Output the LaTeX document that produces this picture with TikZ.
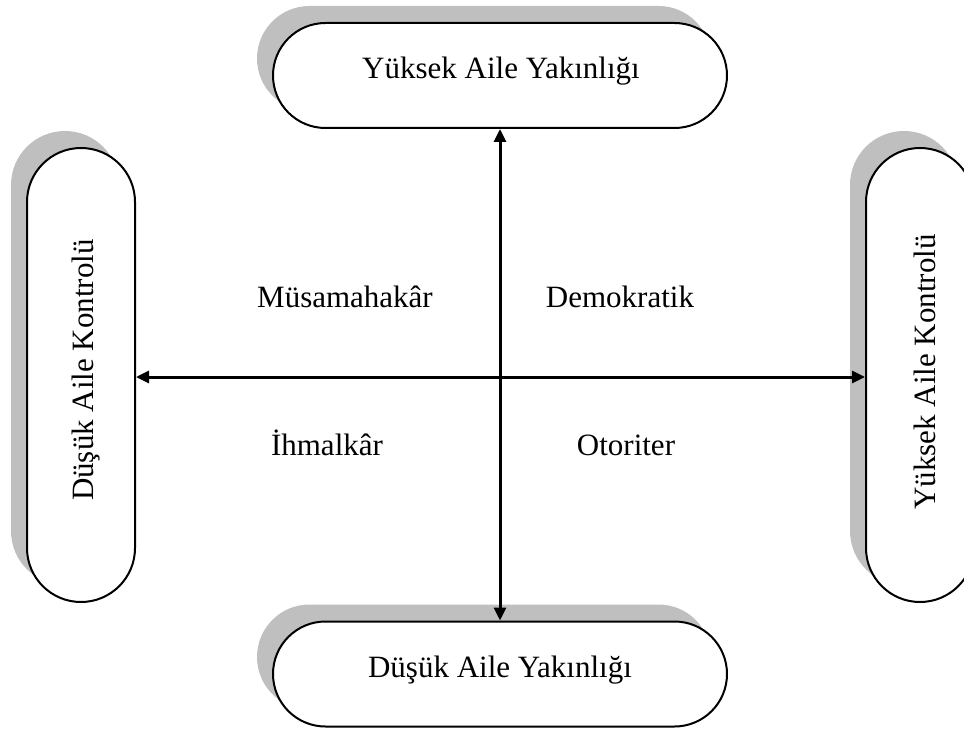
\documentclass[tikz,border=0pt]{standalone}
\usepackage{fontspec}
\setmainfont{Liberation Serif}
\usetikzlibrary{arrows.meta,shadows}
\definecolor{shadowgray}{RGB}{191,191,191}
\tikzset{
  stadium/.style={draw=black, line width=1pt, fill=white, inner sep=0pt,
    general shadow={fill=shadowgray, shadow xshift=-8pt, shadow yshift=8.5pt}},
  hbox/.style={stadium, rounded corners=26.25pt, minimum width=227pt, minimum height=52.5pt},
  vbox/.style={stadium, rounded corners=27pt, minimum width=54pt, minimum height=227pt},
  lbl/.style={font=\fontsize{15.5}{18}\selectfont, inner sep=0pt, anchor=base},
  axis/.style={line width=1.5pt, {Triangle[length=6.5pt,width=6pt]}-{Triangle[length=6.5pt,width=6pt]}}
}
\begin{document}
\begin{tikzpicture}[x=0.5pt,y=-0.5pt]
\useasboundingbox (0,0) rectangle (964,733);
\node[hbox] (top) at (500,75.5) {};
\node[hbox] (bot) at (500,674) {};
\node[vbox] (lft) at (81,375) {};
\node[vbox] (rgt) at (920,375) {};
\node[lbl] (ttop) at (501,79) {Yüksek Aile Yakınlığı};
\node[lbl] (tbot) at (500,677) {Düşük Aile Yakınlığı};
\node[lbl, rotate=90] (tlft) at (93,370) {Düşük Aile Kontrolü};
\node[lbl, rotate=90] (trgt) at (935,372) {Yüksek Aile Kontrolü};
\coordinate (c) at (500,377);
\draw[axis] (top.south) -- (bot.north);
\draw[axis] (lft.east |- c) -- (rgt.west |- c);
\node[lbl] (q1) at (345,307) {Müsamahakâr};
\node[lbl] (q2) at (620,307) {Demokratik};
\node[lbl] (q3) at (327,455) {İhmalkâr};
\node[lbl] (q4) at (626,455) {Otoriter};
\end{tikzpicture}
\end{document}
